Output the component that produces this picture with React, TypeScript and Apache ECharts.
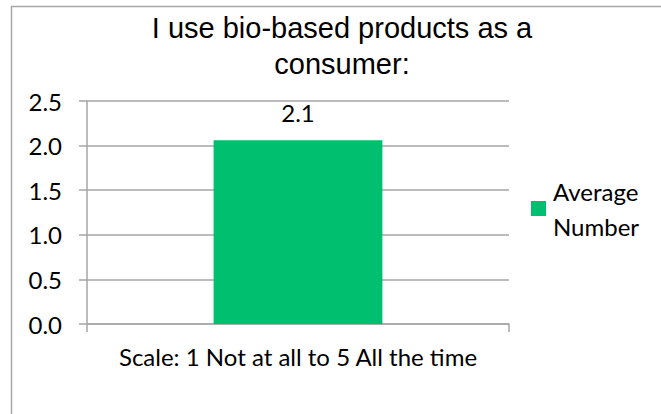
import React, { useEffect, useRef } from "react";
import * as echarts from "echarts";

const titleLines = ["I use bio-based products as a", "consumer:"];
const categories = ["Scale: 1 Not at all to 5 All the time"];
const seriesName = "Average Number";
const legendLines = ["Average", "Number"];
const values = [2.06];
const yTicks = { min: 0, max: 2.5, interval: 0.5 };

export default function App() {
  const ref = useRef<HTMLDivElement>(null);
  useEffect(() => {
    if (!ref.current) return;
    const chart = echarts.init(ref.current, undefined, { renderer: "svg" });
    const sans = "Lato, 'Open Sans', sans-serif";
    chart.setOption({
      animation: false,
      backgroundColor: "#ffffff",
      graphic: [
        {
          type: "rect",
          shape: { x: 11.5, y: 6.5, width: 700, height: 500 },
          style: { fill: "none", stroke: "#a6a6a6", lineWidth: 1.5 },
          silent: true,
        },
      ],
      title: {
        text: titleLines.join("\n"),
        left: 342,
        top: 10,
        padding: 0,
        textAlign: "center",
        textStyle: {
          fontFamily: "'Liberation Sans', Arial, sans-serif",
          fontSize: 29,
          fontWeight: "normal",
          lineHeight: 36,
          color: "#000000",
        },
      },
      legend: {
        show: true,
        left: 531,
        top: 156,
        padding: 0,
        orient: "vertical",
        itemWidth: 15,
        itemHeight: 15,
        icon: "rect",
        data: [seriesName],
        formatter: () => legendLines.join("\n"),
        textStyle: {
          fontFamily: sans,
          fontSize: 24,
          lineHeight: 35,
          color: "#000000",
          padding: [35, 0, 0, 2],
        },
      },
      grid: { left: 87, right: 152, top: 101, bottom: 90, containLabel: false },
      xAxis: {
        type: "category",
        data: categories,
        axisLine: { show: true, lineStyle: { color: "#a6a6a6", width: 1.5 } },
        axisTick: { show: true, length: 8, alignWithLabel: false, lineStyle: { color: "#a6a6a6", width: 1.5 } },
        axisLabel: { margin: 20, fontFamily: sans, fontSize: 24, color: "#000000" },
      },
      yAxis: {
        type: "value",
        min: yTicks.min,
        max: yTicks.max,
        interval: yTicks.interval,
        axisLine: { show: true, lineStyle: { color: "#a6a6a6", width: 1.5 } },
        axisTick: { show: true, length: 8, lineStyle: { color: "#a6a6a6", width: 1.5 } },
        splitLine: { show: true, lineStyle: { color: "#a6a6a6", width: 1.5 } },
        axisLabel: {
          margin: 25,
          fontFamily: sans,
          fontSize: 24,
          color: "#000000",
          formatter: (v: number) => v.toFixed(1),
        },
      },
      series: [
        {
          name: seriesName,
          type: "bar",
          data: values,
          barWidth: "40%",
          itemStyle: { color: "#00BF6F" },
          label: {
            show: true,
            position: "top",
            distance: 16,
            fontFamily: sans,
            fontSize: 24,
            color: "#000000",
            formatter: (p: any) => Number(p.value).toFixed(1),
          },
        },
      ],
    });
    return () => chart.dispose();
  }, []);
  return (
    <div
      ref={ref}
      style={{ position: "absolute", left: 0, top: 0, width: 661, height: 414 }}
    />
  );
}
